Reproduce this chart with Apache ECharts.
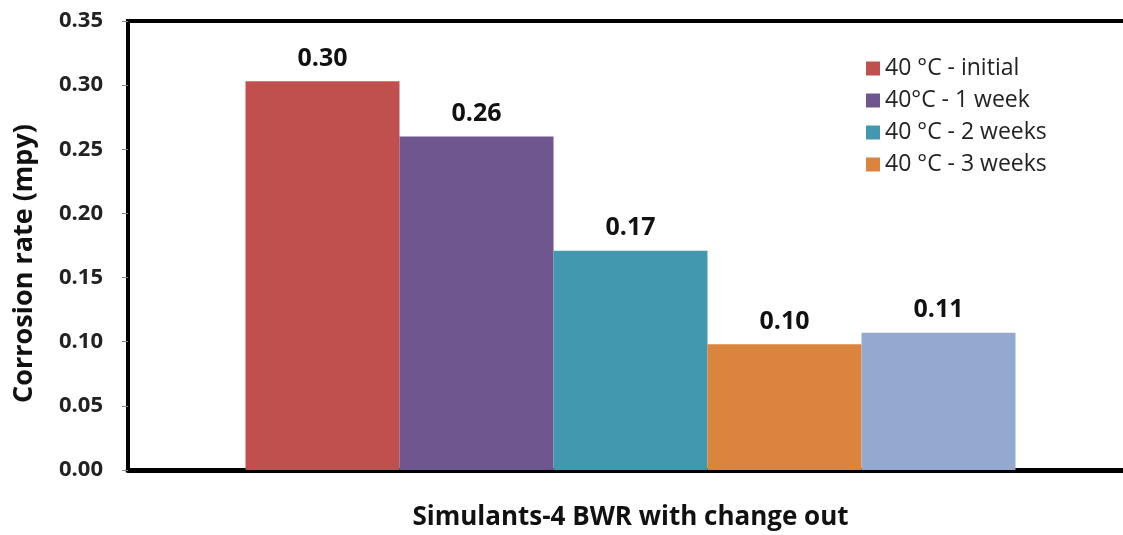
<!DOCTYPE html>
<html>
<head>
<meta charset="utf-8">
<script src="https://cdn.jsdelivr.net/npm/echarts@6/dist/echarts.min.js"></script>
<style>html,body{margin:0;padding:0;background:#fff;}#c{width:1123px;height:535px;}</style>
</head>
<body>
<div id="c"></div>
<script>
const categories = ["Simulants-4 BWR with change out"];
const seriesNames = ["40 °C - initial", "40°C - 1 week", "40 °C - 2 weeks", "40 °C - 3 weeks", "40 °C - change out"];
const legendNames = ["40 °C - initial", "40°C - 1 week", "40 °C - 2 weeks", "40 °C - 3 weeks"];
const values = [0.303, 0.260, 0.171, 0.098, 0.107];
const colors = ["#C0504D", "#70568F", "#4198AF", "#DB843D", "#93A9CF"];
const yTicks = { min: 0, max: 0.35, interval: 0.05 };

const chart = echarts.init(document.getElementById('c'), null, { renderer: 'canvas' });
const font = '"Open Sans", "Liberation Sans", sans-serif';
const series = seriesNames.map((n, i) => ({
  name: n,
  type: 'bar',
  data: [values[i]],
  barWidth: 154,
  barGap: '0%',
  itemStyle: { color: colors[i] },
  label: {
    show: true, position: 'top', distance: 10,
    fontFamily: font, fontWeight: 'bold', fontSize: 25, color: '#111',
    formatter: p => p.value.toFixed(2)
  }
}));
chart.setOption({
  animation: false,
  backgroundColor: '#fff',
  color: colors,
  grid: { left: 128, right: -10, top: 21, bottom: 65, outerBoundsMode: 'none', containLabel: false,
          show: true, borderColor: '#000', borderWidth: 4, backgroundColor: 'transparent' },
  legend: {
    data: legendNames, orient: 'vertical', left: 861, top: 52,
    itemWidth: 14, itemHeight: 14, itemGap: 9,
    icon: 'rect',
    textStyle: { fontFamily: font, fontSize: 23, color: '#222' }
  },
  xAxis: {
    type: 'category', data: categories,
    axisLine: { lineStyle: { color: '#000', width: 5 } },
    axisTick: { show: false }, axisLabel: { show: false },
    name: categories[0], nameLocation: 'middle', nameGap: 35,
    nameTextStyle: { fontFamily: font, fontWeight: 'bold', fontSize: 26, color: '#111' }
  },
  yAxis: {
    type: 'value', min: yTicks.min, max: yTicks.max, interval: yTicks.interval,
    axisLine: { show: true, lineStyle: { color: '#000', width: 4 } },
    axisTick: { show: true, length: 6, lineStyle: { color: '#888', width: 1 } },
    splitLine: { show: false },
    axisLabel: { fontFamily: font, fontWeight: 'bold', fontSize: 22, color: '#222', margin: 25, formatter: v => v.toFixed(2) },
    name: 'Corrosion rate (mpy)', nameLocation: 'middle', nameGap: 90, nameRotate: 90,
    nameTextStyle: { fontFamily: font, fontWeight: 'bold', fontSize: 27, color: '#111', padding: [0, 36, 0, 0] }
  },
  series: series
});
</script>
</body>
</html>
